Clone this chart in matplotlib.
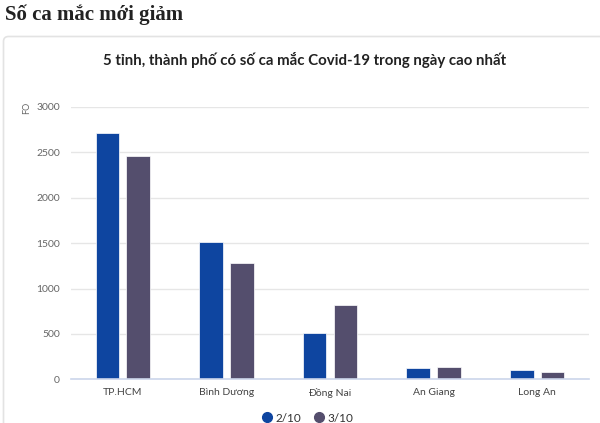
import numpy as np
import matplotlib
matplotlib.use("Agg")
import matplotlib.pyplot as plt
from matplotlib.patches import FancyBboxPatch
from matplotlib.lines import Line2D
from matplotlib.transforms import IdentityTransform

# data
provinces = ["TP.HCM", "Bình Dương", "Đồng Nai", "An Giang", "Long An"]
cases_2_10 = [2715, 1512, 508, 125, 100]
cases_3_10 = [2462, 1283, 822, 136, 77]
series_names = ["2/10", "3/10"]
yticks = [0, 500, 1000, 1500, 2000, 2500, 3000]

blue = "#0e45a0"
purple = "#544e6d"

plt.rcParams['font.family'] = ['Lato', 'DejaVu Sans']

fig = plt.figure(figsize=(6, 4.23), dpi=100)

# page heading
fig.text(5 / 600, 1 - 15 / 423, "Số ca mắc mới giảm", family=['Liberation Serif', 'DejaVu Serif'],
         fontweight='bold', fontsize=15, color="#222222", ha='left', va='center')

# card border (display coords = pixels)
card = FancyBboxPatch((3.5, -20), 620, 423 - 36.5 + 20,
                      boxstyle="round,pad=0,rounding_size=5",
                      transform=IdentityTransform(), facecolor='none',
                      edgecolor="#e3e3e3", linewidth=1.2, zorder=-1)
fig.patches.append(card)

fig.text(305 / 600, 1 - 60 / 423, "5 tỉnh, thành phố có số ca mắc Covid-19 trong ngày cao nhất",
         fontsize=10.8, fontweight='bold', color="#222222", ha='center', va='center')

ax = fig.add_axes([71 / 600, 43.7 / 423, 518 / 600, (379.3 - 107) / 423])
ax.set_facecolor('none')

x = np.arange(len(provinces))
w = 0.228
off = 0.148
ax.bar(x - off, cases_2_10, width=w, color=blue, edgecolor="#ffffff", linewidth=0.5, zorder=3)
ax.bar(x + off, cases_3_10, width=w, color=purple, edgecolor="#ffffff", linewidth=0.5, zorder=3)

ax.set_xlim(-0.5, len(provinces) - 0.5)
ax.set_ylim(0, 3000)
ax.set_yticks(yticks)
ax.set_yticklabels([str(v) for v in yticks])
ax.set_xticks(x)
ax.set_xticklabels(provinces)
ax.tick_params(axis='y', length=0, pad=8, labelsize=7.5, labelcolor="#666666")
ax.tick_params(axis='x', length=0, pad=6.5, labelsize=7.5, labelcolor="#444444")
ax.grid(axis='y', color="#e6e6e6", linewidth=1, zorder=0)
for s in ['top', 'right', 'left']:
    ax.spines[s].set_visible(False)
ax.spines['bottom'].set_color("#ccd6eb")
ax.spines['bottom'].set_linewidth(1.2)
ax.spines['bottom'].set_zorder(4)

fig.text(27 / 600, 1 - 108 / 423, "FO", rotation=90, fontsize=6.5, color="#666666",
         ha='center', va='center')

handles = [Line2D([], [], marker='o', linestyle='none', markersize=7, color=c) for c in (blue, purple)]
fig.legend(handles, series_names, loc='center', bbox_to_anchor=(307 / 600, 1 - 418 / 423),
           ncol=2, frameon=False, fontsize=8.5, handletextpad=0.2, columnspacing=1.0,
           labelcolor="#333333", handlelength=1.0)

fig.savefig("out.png", dpi=100)
